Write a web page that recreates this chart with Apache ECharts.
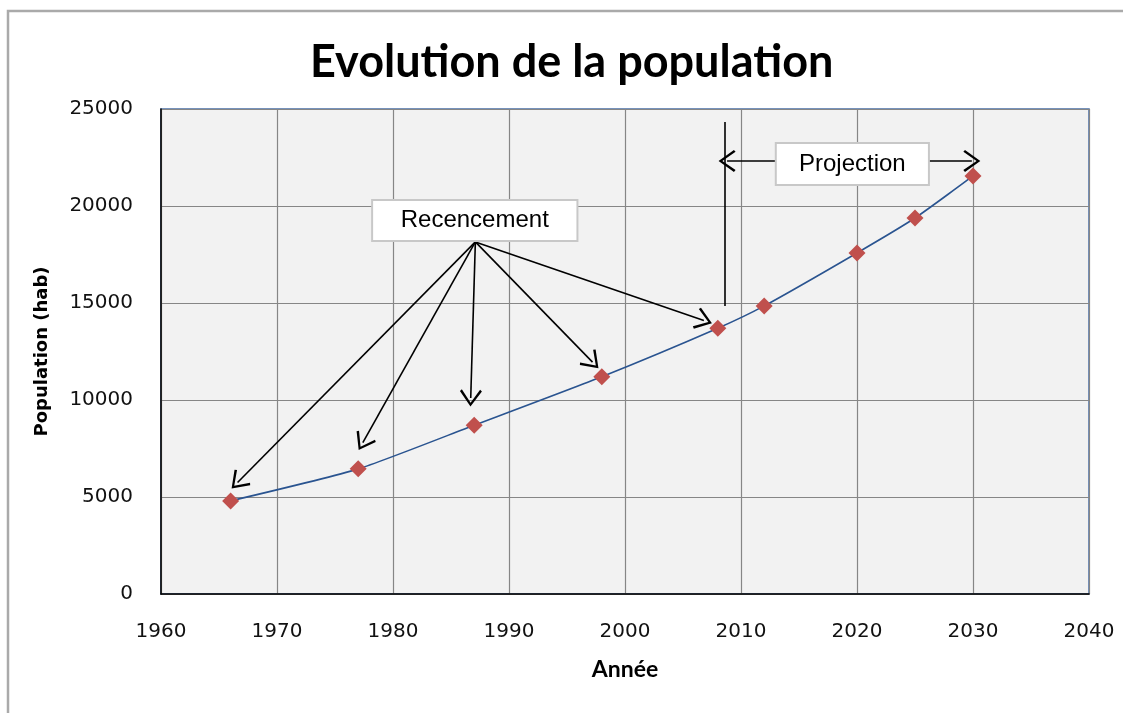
<!DOCTYPE html>
<html>
<head>
<meta charset="utf-8">
<script src="https://cdn.jsdelivr.net/npm/echarts@6/dist/echarts.min.js"></script>
<style>
html,body{margin:0;padding:0;background:#fff;}
#chart{width:1123px;height:713px;}
</style>
</head>
<body>
<div id="chart"></div>
<script>
// ---- Data ----
const years = [1966, 1977, 1987, 1998, 2008, 2012, 2020, 2025, 2030];
const population = [4800, 6450, 8700, 11200, 13700, 14850, 17580, 19380, 21550];
const xTicks = [1960, 1970, 1980, 1990, 2000, 2010, 2020, 2030, 2040];
const yTicks = [0, 5000, 10000, 15000, 20000, 25000];
const titleText = 'Evolution de la population';
const xName = 'Année';
const yName = 'Population (hab)';
const censusLabel = 'Recencement';
const projectionLabel = 'Projection';

// ---- Annotation geometry (data coordinates) ----
const censusOrigin = [1987.1, 18150];
const censusTargets = [[1966.6, 5750], [1977.4, 7800], [1986.7, 10100], [1997.2, 11950], [2006.8, 14100]];
const projVertical = [[2008.6, 24330], [2008.6, 14850]];
const projArrowY = 22320;
const projLeft = [[2013.0, 2008.8]];
const projRight = [[2026.2, 2029.9]];
const censusBox = [1978.2, 20310, 1995.9, 18200];
const projBox = [2013.0, 23250, 2026.2, 21085];

const chevron = 'path://M10,0 L20,13 L18.3,14.4 L10,3.2 L1.7,14.4 L0,13 Z';

const chart = echarts.init(document.getElementById('chart'));

const markData = [];
censusTargets.forEach(t => {
  markData.push([{coord: censusOrigin, symbol: 'none'}, {coord: t, symbol: chevron}]);
});
markData.push([{coord: projVertical[0], symbol: 'none'}, {coord: projVertical[1], symbol: 'none'}]);
markData.push([{coord: [projLeft[0][0], projArrowY], symbol: 'none'}, {coord: [projLeft[0][1], projArrowY], symbol: chevron}]);
markData.push([{coord: [projRight[0][0], projArrowY], symbol: 'none'}, {coord: [projRight[0][1], projArrowY], symbol: chevron}]);

const option = {
  backgroundColor: '#ffffff',
  animation: false,
  title: {
    text: titleText,
    left: 305,
    top: 35,
    textStyle: {fontFamily: 'Lato', fontWeight: 'bold', fontSize: 45, color: '#000'}
  },
  grid: {
    left: 161, right: 34, top: 109, bottom: 119,
    show: true, backgroundColor: '#F2F2F2', borderColor: '#4A6FA5', borderWidth: 1.5
  },
  xAxis: {
    type: 'value', min: xTicks[0], max: xTicks[xTicks.length - 1], interval: 10,
    name: xName, nameLocation: 'middle', nameGap: 64,
    nameTextStyle: {fontFamily: 'Lato', fontWeight: 'bold', fontSize: 23, color: '#000'},
    axisLine: {show: true, onZero: false, lineStyle: {color: '#000', width: 1.5}},
    axisTick: {show: false},
    axisLabel: {margin: 28, fontFamily: 'DejaVu Sans', fontSize: 20, color: '#111',
      formatter: v => String(v)},
    splitLine: {show: true, lineStyle: {color: '#868686', width: 1.2}}
  },
  yAxis: {
    type: 'value', min: yTicks[0], max: yTicks[yTicks.length - 1], interval: 5000,
    name: yName, nameLocation: 'middle', nameGap: 110, nameRotate: 90,
    nameTextStyle: {fontFamily: 'DejaVu Sans', fontWeight: 'bold', fontSize: 18, color: '#000'},
    axisLine: {show: true, onZero: false, lineStyle: {color: '#000', width: 1.5}},
    axisTick: {show: false},
    axisLabel: {margin: 28, fontFamily: 'DejaVu Sans', fontSize: 20, color: '#111',
      padding: [5, 0, 0, 0], formatter: v => String(v)},
    splitLine: {show: true, lineStyle: {color: '#868686', width: 1.2}}
  },
  series: [{
    type: 'line',
    data: years.map((y, i) => [y, population[i]]),
    smooth: 0.2,
    symbol: 'diamond',
    symbolSize: 17,
    itemStyle: {color: '#C0504D'},
    lineStyle: {color: '#2A5490', width: 1.6},
    z: 3,
    markLine: {
      silent: true,
      symbolSize: [22, 17],
      label: {show: false},
      lineStyle: {color: '#000', width: 1.6, type: 'solid'},
      data: markData,
      z: 4
    }
  }],
  graphic: []
};
chart.setOption(option);

function box(b, text) {
  const p1 = chart.convertToPixel({gridIndex: 0}, [b[0], b[1]]);
  const p2 = chart.convertToPixel({gridIndex: 0}, [b[2], b[3]]);
  return [{
    type: 'rect', z: 100,
    shape: {x: p1[0], y: p1[1], width: p2[0] - p1[0], height: p2[1] - p1[1]},
    style: {fill: '#fff', stroke: '#C8C8C8', lineWidth: 2}
  }, {
    type: 'text', z: 101,
    x: (p1[0] + p2[0]) / 2, y: (p1[1] + p2[1]) / 2,
    style: {text: text, fontFamily: 'Liberation Sans', fontSize: 24, fill: '#000',
      align: 'center', verticalAlign: 'middle'}
  }];
}
const frame = [{
  type: 'polyline', z: 100,
  shape: {points: [[8, 713], [8, 11], [1123, 11]]},
  style: {stroke: '#AAAAAA', lineWidth: 2.5, fill: null}
}];
chart.setOption({graphic: frame.concat(box(censusBox, censusLabel), box(projBox, projectionLabel))});
</script>
</body>
</html>
